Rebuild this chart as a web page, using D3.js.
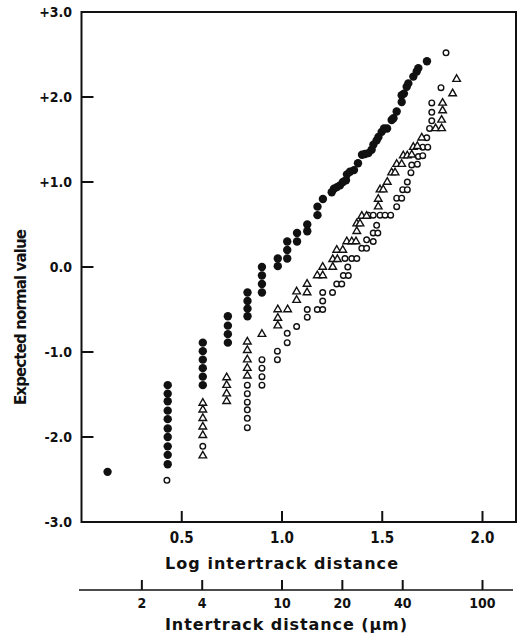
<!DOCTYPE html>
<html><head><meta charset="utf-8">
<script src="https://cdn.jsdelivr.net/npm/d3@7"></script>
<style>
html,body{margin:0;padding:0;background:#fff;}
svg{display:block;}
.tick-label{font-family:"DejaVu Sans Condensed","Liberation Sans Narrow","DejaVu Sans",sans-serif;font-weight:bold;fill:#111;}
.title{font-family:"DejaVu Sans","Liberation Sans",sans-serif;font-weight:bold;fill:#111;}
</style></head>
<body>
<svg id="chart" width="526" height="635"></svg>
<script>
// ---- data (log10 intertrack distance, expected normal value) ----
const filledCircles = [
  [0.13,-2.41],
  [0.43,-1.39],[0.43,-1.49],[0.43,-1.58],[0.43,-1.69],[0.43,-1.79],[0.43,-1.90],[0.43,-2.00],[0.43,-2.11],[0.43,-2.21],[0.43,-2.32],
  [0.605,-0.89],[0.605,-0.99],[0.605,-1.09],[0.605,-1.19],[0.605,-1.29],[0.605,-1.39],
  [0.73,-0.58],[0.73,-0.69],[0.73,-0.79],[0.73,-0.89],
  [0.828,-0.30],[0.828,-0.40],[0.828,-0.49],[0.828,-0.58],
  [0.90,0.00],[0.90,-0.10],[0.90,-0.20],[0.90,-0.30],
  [0.979,0.10],[0.979,0.01],
  [1.026,0.30],[1.026,0.20],[1.026,0.10],
  [1.075,0.40],[1.075,0.30],
  [1.126,0.50],[1.126,0.42],
  [1.177,0.71],[1.177,0.61],
  [1.204,0.80],[1.248,0.88],[1.259,0.92],[1.274,0.94],[1.289,0.96],[1.304,1.00],[1.319,1.02],
  [1.324,1.09],[1.339,1.12],[1.359,1.14],[1.379,1.22],[1.399,1.32],[1.414,1.33],[1.431,1.34],
  [1.447,1.38],[1.456,1.44],[1.472,1.49],[1.481,1.53],[1.497,1.59],[1.509,1.63],[1.524,1.63],
  [1.547,1.73],[1.556,1.75],[1.572,1.83],[1.597,1.94],[1.597,2.02],[1.608,2.04],[1.622,2.12],
  [1.630,2.16],[1.655,2.24],[1.672,2.30],[1.680,2.34],[1.723,2.42]
];
const openCircles = [
  [0.426,-2.51],
  [0.605,-2.11],
  [0.827,-1.39],[0.827,-1.49],[0.827,-1.59],[0.827,-1.68],[0.827,-1.78],[0.827,-1.89],
  [0.90,-1.09],[0.90,-1.19],[0.90,-1.29],[0.90,-1.39],
  [0.977,-0.99],[0.977,-1.09],
  [1.026,-0.78],[1.026,-0.89],
  [1.073,-0.70],
  [1.126,-0.50],[1.126,-0.59],
  [1.176,-0.50],[1.203,-0.50],[1.203,-0.40],[1.203,-0.30],
  [1.252,-0.30],
  [1.273,-0.20],[1.298,-0.20],
  [1.306,-0.10],[1.331,-0.10],
  [1.328,0.00],
  [1.314,0.10],[1.348,0.10],[1.373,0.10],
  [1.398,0.22],[1.422,0.22],
  [1.422,0.32],[1.455,0.30],
  [1.455,0.40],[1.478,0.40],
  [1.472,0.49],
  [1.430,0.61],[1.455,0.61],[1.489,0.61],[1.514,0.61],[1.542,0.61],
  [1.572,0.71],
  [1.572,0.81],[1.597,0.81],
  [1.602,0.91],[1.625,0.91],
  [1.625,1.00],
  [1.643,1.11],
  [1.647,1.20],[1.675,1.21],
  [1.680,1.30],[1.702,1.31],
  [1.702,1.41],[1.727,1.41],
  [1.722,1.52],
  [1.736,1.63],
  [1.747,1.72],[1.747,1.82],[1.747,1.93],
  [1.793,2.11],
  [1.818,2.52]
];
const openTriangles = [
  [0.605,-1.60],[0.605,-1.68],[0.605,-1.78],[0.605,-1.88],[0.605,-1.98],[0.605,-2.22],
  [0.724,-1.30],[0.724,-1.39],[0.724,-1.49],[0.724,-1.58],
  [0.827,-0.88],[0.827,-0.98],[0.827,-1.09],[0.827,-1.19],[0.827,-1.28],
  [0.90,-0.79],
  [0.979,-0.50],[0.979,-0.60],[0.979,-0.69],
  [1.028,-0.50],
  [1.073,-0.29],[1.073,-0.39],
  [1.125,-0.20],[1.125,-0.30],
  [1.176,-0.10],[1.203,-0.10],[1.203,0.00],
  [1.253,0.00],[1.253,0.09],[1.276,0.09],
  [1.273,0.20],[1.303,0.20],
  [1.323,0.30],[1.348,0.30],[1.369,0.30],
  [1.373,0.42],[1.373,0.51],[1.389,0.51],[1.398,0.60],[1.422,0.60],
  [1.480,0.71],[1.480,0.80],
  [1.489,0.91],[1.505,0.91],
  [1.525,1.00],
  [1.547,1.11],[1.564,1.11],
  [1.572,1.21],[1.597,1.21],
  [1.605,1.31],[1.625,1.31],[1.647,1.32],
  [1.655,1.41],[1.675,1.42],
  [1.697,1.52],
  [1.766,1.63],[1.796,1.63],[1.796,1.73],[1.801,1.84],[1.801,1.93],
  [1.851,2.04],[1.871,2.21]
];
const yTicks = [3,2,1,0,-1,-2,-3];
const yTickLabels = ["+3.0","+2.0","+1.0","0.0","-1.0","-2.0","-3.0"];
const xTicks = [0.5,1.0,1.5,2.0];
const xTickLabels = ["0.5","1.0","1.5","2.0"];
const umTicks = [2,4,10,20,40,100];
const umTickLabels = ["2","4","10","20","40","100"];

// ---- layout ----
const svg = d3.select("#chart");
const x = d3.scaleLinear().domain([0,2]).range([81.5,482.5]);
const y = d3.scaleLinear().domain([-3,3]).range([522,12]);
const xRight = 516;
const um = d3.scaleLog().domain([1,100]).range([x(0),x(2)]);

const ink = "#111";
// frame
svg.append("path")
  .attr("d", `M${x(0)},${y(3)} H${xRight} V${y(-3)} H${x(0)} Z`)
  .attr("fill","none").attr("stroke",ink).attr("stroke-width",2);

// y ticks (inward)
svg.selectAll(".yt").data(yTicks.filter(d=>d>-3 && d<3)).enter().append("line")
  .attr("x1",x(0)).attr("x2",x(0)+12)
  .attr("y1",d=>y(d)).attr("y2",d=>y(d))
  .attr("stroke",ink).attr("stroke-width",2);
svg.selectAll(".yl").data(yTicks).enter().append("text")
  .attr("class","tick-label")
  .attr("x",72).attr("y",d=>y(d)).attr("dy","0.36em")
  .attr("text-anchor","end").attr("font-size",14)
  .text((d,i)=>yTickLabels[i]);

// x ticks (inward)
svg.selectAll(".xt").data(xTicks).enter().append("line")
  .attr("x1",d=>x(d)).attr("x2",d=>x(d))
  .attr("y1",y(-3)).attr("y2",y(-3)-11)
  .attr("stroke",ink).attr("stroke-width",2);
svg.selectAll(".xl").data(xTicks).enter().append("text")
  .attr("class","tick-label")
  .attr("x",d=>x(d)).attr("y",543)
  .attr("text-anchor","middle").attr("font-size",15)
  .text((d,i)=>xTickLabels[i]);

// second axis (micrometres, log)
svg.append("line").attr("x1",79).attr("x2",513).attr("y1",590).attr("y2",590)
  .attr("stroke",ink).attr("stroke-width",1.6);
svg.selectAll(".ut").data(umTicks).enter().append("line")
  .attr("x1",d=>um(d)).attr("x2",d=>um(d))
  .attr("y1",590).attr("y2",580)
  .attr("stroke",ink).attr("stroke-width",2);
svg.selectAll(".ul").data(umTicks).enter().append("text")
  .attr("class","tick-label")
  .attr("x",d=>um(d)).attr("y",608)
  .attr("text-anchor","middle").attr("font-size",14)
  .text((d,i)=>umTickLabels[i]);

// titles
svg.append("text").attr("class","title")
  .attr("x",165).attr("y",569).attr("font-size",16)
  .attr("textLength",233).attr("lengthAdjust","spacing")
  .text("Log intertrack distance");
svg.append("text").attr("class","title")
  .attr("x",165).attr("y",630).attr("font-size",16)
  .attr("textLength",242).attr("lengthAdjust","spacing")
  .text("Intertrack distance (\u03bcm)");
svg.append("text").attr("class","title")
  .attr("transform","translate(26,405) rotate(-90)")
  .attr("x",0).attr("y",0).attr("font-size",15)
  .attr("textLength",176).attr("lengthAdjust","spacing")
  .text("Expected  normal value");

// marks
svg.append("g").selectAll("circle").data(filledCircles).enter().append("circle")
  .attr("cx",d=>x(d[0])).attr("cy",d=>y(d[1])).attr("r",4.2)
  .attr("fill",ink);
svg.append("g").selectAll("circle").data(openCircles).enter().append("circle")
  .attr("cx",d=>x(d[0])).attr("cy",d=>y(d[1])).attr("r",2.8)
  .attr("fill","#fff").attr("stroke",ink).attr("stroke-width",1.4);
const tri = d3.symbol().type(d3.symbolTriangle).size(25);
svg.append("g").selectAll("path").data(openTriangles).enter().append("path")
  .attr("d",tri)
  .attr("transform",d=>`translate(${x(d[0])},${y(d[1])})`)
  .attr("fill","#fff").attr("stroke",ink).attr("stroke-width",1.4);
</script>
</body></html>
